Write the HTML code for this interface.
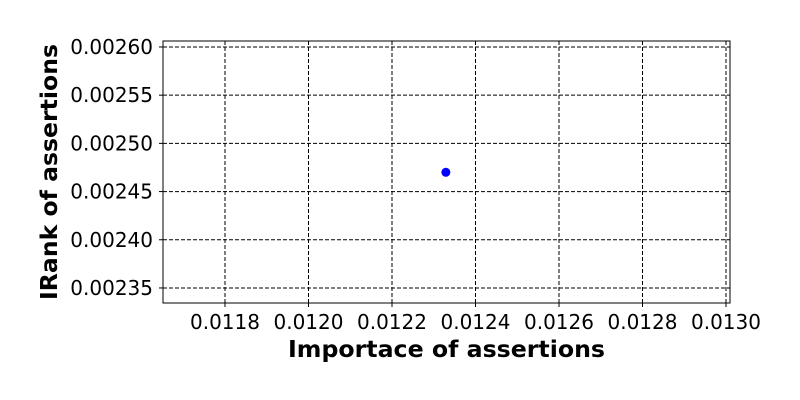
<!DOCTYPE html>
<html><head><meta charset="utf-8"><style>
html,body{margin:0;padding:0;background:#fff;}
svg{display:block;font-family:"DejaVu Sans","Liberation Sans",sans-serif;}
</style></head><body>
<svg id="chart" width="800" height="400"></svg>
<script>
const xTicks = [0.0118, 0.0120, 0.0122, 0.0124, 0.0126, 0.0128, 0.0130];
const xTickLabels = ["0.0118","0.0120","0.0122","0.0124","0.0126","0.0128","0.0130"];
const yTicks = [0.00235, 0.00240, 0.00245, 0.00250, 0.00255, 0.00260];
const yTickLabels = ["0.00235","0.00240","0.00245","0.00250","0.00255","0.00260"];
const xValues = [0.012329];
const yValues = [0.002470];

const svg = document.getElementById('chart');
const NS = 'http://www.w3.org/2000/svg';
const L=163,R=730,T=41,B=303;
const xMin=0.0116515,xMax=0.0130096,yMin=0.0023344,yMax=0.0026062;
const sx=v=>L+(v-xMin)/(xMax-xMin)*(R-L);
const sy=v=>B-(v-yMin)/(yMax-yMin)*(B-T);
function mk(tag,attrs,parent){const e=document.createElementNS(NS,tag);for(const k in attrs)e.setAttribute(k,attrs[k]);(parent||svg).appendChild(e);return e;}

const grid=mk('g',{});


xTicks.forEach((t,i)=>{
  const x=sx(t);
  const gl=mk('line',{x1:x,x2:x,y1:T,y2:B,stroke:'#000','stroke-width':1,'stroke-dasharray':'4,2'},grid);
  
  
  mk('line',{x1:x,x2:x,y1:B,y2:B+4,stroke:'#000'});
  const tx=mk('text',{x:x,y:B+26,'text-anchor':'middle','font-size':'20'});
  tx.textContent=xTickLabels[i];
  
  
});
yTicks.forEach((t,i)=>{
  const y=sy(t);
  const gl=mk('line',{x1:L,x2:R,y1:y,y2:y,stroke:'#000','stroke-width':1,'stroke-dasharray':'4,2'},grid);
  
  
  mk('line',{x1:L-4,x2:L,y1:y,y2:y,stroke:'#000'});
  const tx=mk('text',{x:L-10,y:y+7,'text-anchor':'end','font-size':'20'});
  tx.textContent=yTickLabels[i];
  
  
});
const frame=mk('rect',{x:L,y:T,width:R-L,height:B-T,fill:'none',stroke:'#000','stroke-width':1});


xValues.forEach((v,i)=>{
  const c=mk('circle',{cx:sx(v),cy:sy(yValues[i]),r:4.5,fill:'#0000ff'});
  
  
});
const xl=mk('text',{x:(L+R)/2+0,y:357,'text-anchor':'middle','font-size':'23','font-weight':'bold',textLength:317,lengthAdjust:'spacingAndGlyphs'});
xl.textContent='Importace of assertions';


const yl=mk('text',{x:0,y:0,'text-anchor':'middle','font-size':'23','font-weight':'bold',textLength:256,lengthAdjust:'spacingAndGlyphs',transform:'translate(57,172) rotate(-90)'});
yl.textContent='IRank of assertions';


</script>
</body></html>
